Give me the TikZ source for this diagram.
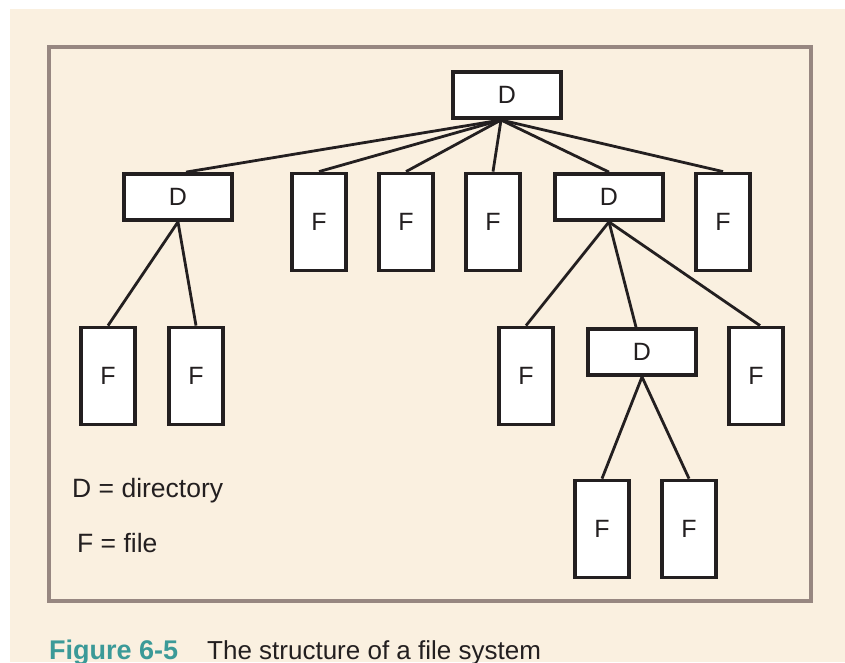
\documentclass[tikz,border=0pt]{standalone}
\usepackage{fontspec}
\setmainfont{Liberation Sans}
\definecolor{cream}{HTML}{FAF0E0}
\definecolor{framec}{HTML}{978781}
\definecolor{ink}{HTML}{231F20}
\definecolor{teal}{HTML}{3B9A98}
\begin{document}
\begin{tikzpicture}[x=1pt,y=-1pt,
  boxd/.style={draw=ink,fill=white,line width=3.8pt,minimum width=108pt,minimum height=46pt,inner sep=0pt,font=\fontsize{25}{25}\selectfont,text=ink},
  boxf/.style={draw=ink,fill=white,line width=3.8pt,minimum width=54pt,minimum height=97pt,inner sep=0pt,font=\fontsize{25}{25}\selectfont,text=ink},
  link/.style={draw=ink,line width=2.8pt}]
\useasboundingbox (0,0) rectangle (845,662);
\fill[white] (0,0) rectangle (845,662);
\fill[cream] (10,9) rectangle (845,662);
\draw[framec,line width=4pt] (49,47) rectangle (811,601);
% nodes
\node[boxd] (r) at (507,95) {D};
\node[boxd] (d1) at (178,197) {D};
\node[boxf] (f1) at (319,222) {F};
\node[boxf] (f2) at (406,222) {F};
\node[boxf] (f3) at (493,222) {F};
\node[boxd] (d2) at (609,197) {D};
\node[boxf] (f4) at (723,222) {F};
\node[boxf] (f5) at (108,376) {F};
\node[boxf] (f6) at (196,376) {F};
\node[boxf] (f7) at (526,376) {F};
\node[boxd] (d3) at (642,352) {D};
\node[boxf] (f8) at (756,376) {F};
\node[boxf] (f9) at (602,529) {F};
\node[boxf] (f10) at (689,529) {F};
% links
\coordinate (rb) at (501,120);
\draw[link] (rb) -- ([xshift=8pt]d1.north);
\draw[link] (rb) -- (f1.north);
\draw[link] (rb) -- (f2.north);
\draw[link] (rb) -- (f3.north);
\draw[link] (rb) -- (d2.north);
\draw[link] (rb) -- (f4.north);
\draw[link] (d1.south) -- (f5.north);
\draw[link] (d1.south) -- (f6.north);
\draw[link] (d2.south) -- (f7.north);
\draw[link] (d2.south) -- ([xshift=-6pt]d3.north);
\draw[link] (d2.south) -- ([xshift=4pt]f8.north);
\draw[link] (d3.south) -- (f9.north);
\draw[link] (d3.south) -- (f10.north);
% legend
\node[anchor=west,text=ink,font=\fontsize{26.5}{26.5}\selectfont,inner sep=0pt] (leg1) at (72,491) {D = directory};
\node[anchor=west,text=ink,font=\fontsize{26.5}{26.5}\selectfont,inner sep=0pt] (leg2) at (77,543) {F = file};
% caption
\node[anchor=base west,inner sep=0pt,text=teal,font=\fontsize{27}{27}\selectfont\bfseries] (cap1) at (49,659) {Figure 6-5};
\node[anchor=base west,inner sep=0pt,text=ink,font=\fontsize{26}{26}\selectfont] (cap2) at (207,659) {The structure of a file system};
\end{tikzpicture}
\end{document}
